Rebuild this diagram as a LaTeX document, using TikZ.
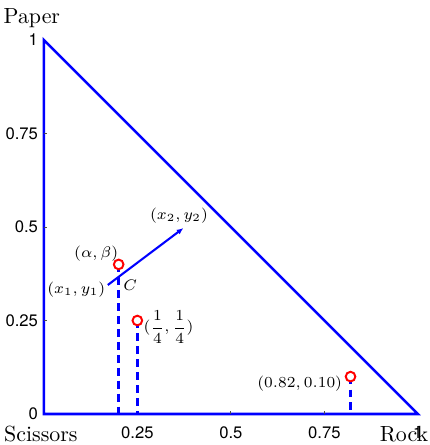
\documentclass[tikz,border=0pt]{standalone}
\usepackage{amsmath,amssymb}
\usepackage{fontspec}
\newfontfamily\ticksf{TeX Gyre Heros}
\usepackage{tikz}
\usetikzlibrary{arrows.meta,positioning,calc}

\begin{document}
\begin{tikzpicture}[x=6cm, y=6cm,
		simplex/.style={draw=blue, line width=1.15pt},
		drop/.style={draw=blue, line width=1.2pt, dash pattern=on 3.6pt off 2.3pt},
		pt/.style={draw=red, fill=white, circle, line width=0.9pt, minimum size=4.4pt, inner sep=0pt},
		tickmark/.style={draw=gray!60!black, line width=0.4pt},
		ticklab/.style={font=\ticksf\fontsize{7.6}{9}\selectfont, inner sep=1pt},
		lab/.style={font=\fontsize{7.3}{8}\selectfont, inner sep=1pt}]
		\useasboundingbox (-0.1173,-0.0829) rectangle (1.032,1.107);

		\coordinate (S) at (0,0);
		\coordinate (R) at (1,0);
		\coordinate (P) at (0,1);
		\draw[simplex] (S) -- (R) -- (P) -- cycle;

		\foreach \t in {0.25,0.5,0.75} {
			\draw[tickmark] (\t,0) -- ++(0,0.008);
			\draw[tickmark] (0,\t) -- ++(0.008,0);
		}
		\foreach \t/\n in {0/a,0.25/b,0.5/c,0.75/d,1/e}
			\node[ticklab, left=1.5pt] (ylab\n) at (0,\t) {\t};
		\foreach \t/\n in {0.25/b,0.5/c,0.75/d,1/e}
			\node[ticklab, below=4.4pt] (xlab\n) at (\t,0) {\t};

		\node (paper) at (-0.032,1.059) {Paper};
		\node (scissors) at (-0.008,-0.053) {Scissors};
		\node (rock) at (0.963,-0.053) {Rock};

		\coordinate (ab) at (0.2,0.4);
		\coordinate (q) at (0.25,0.25);
		\coordinate (m) at (0.82,0.10);
		\draw[drop] (ab) -- (ab |- S);
		\draw[drop] (q) -- (q |- S);
		\draw[drop] (m) -- (m |- S);

		\coordinate (x1) at (0.171,0.345);
		\coordinate (x2) at (0.373,0.497);
		\coordinate (C) at (0.2,0.3665);
		\draw[blue, line width=0.95pt, -{Latex[length=3pt,width=2.6pt]}] (x1) -- (x2);

		\node[pt] (abpt) at (ab) {};
		\node[pt] (qpt) at (q) {};
		\node[pt] (mpt) at (m) {};

		\node[lab, anchor=south east, xshift=1pt] (ablab) at (ab) {$(\alpha,\beta)$};
		\node[lab, left=0pt of x1, yshift=-2pt] (x1lab) {$(x_1,y_1)$};
		\node[lab, above=1pt of x2, xshift=-2pt] (x2lab) {$(x_2,y_2)$};
		\node[lab, anchor=north west, xshift=1pt] (Clab) at (C) {$C$};
		\node[lab, right=-1pt of qpt, yshift=-3pt] (qlab) {$(\dfrac{1}{4},\dfrac{1}{4})$};
		\node[lab, left=0pt of mpt, yshift=-3pt] (mlab) {$(0.82,0.10)$};
	\end{tikzpicture}
\end{document}
